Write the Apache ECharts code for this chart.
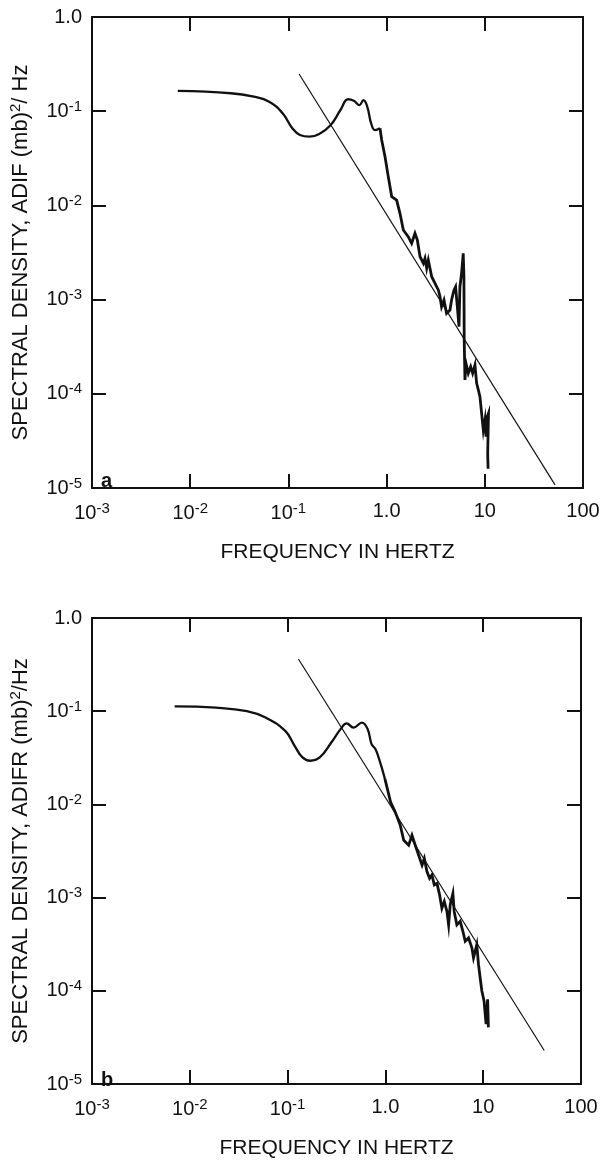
<!DOCTYPE html>
<html>
<head>
<meta charset="utf-8">
<script src="https://cdn.jsdelivr.net/npm/echarts@6/dist/echarts.min.js"></script>
<style>
  html, body { margin: 0; padding: 0; background: #fff; }
  #chart { width: 603px; height: 1160px; }
</style>
</head>
<body>
<div id="chart"></div>
<script>
// panel a : ADIF spectrum (Hz, (mb)^2/Hz)
var freqA = [0.00747, 0.0259, 0.0444, 0.0637, 0.0873, 0.1096, 0.131, 0.164, 0.206, 0.27, 0.339, 0.405, 0.463, 0.53, 0.58, 0.635, 0.696, 0.762, 0.857,
  0.891, 0.964, 1.04, 1.127, 1.265, 1.368, 1.48, 1.66, 1.8, 1.945, 2.055, 2.19, 2.37, 2.46, 2.56, 2.66, 2.88, 3.11, 3.37, 3.5, 3.63, 3.84, 4.08, 4.42,
  4.59, 4.85, 5.04, 5.25, 5.46, 5.58, 5.8, 6.03, 6.13, 6.17, 6.28, 6.43, 6.79, 7.18, 7.52, 7.94, 8.26, 8.59, 8.93, 9.28, 9.66, 10.05, 10.3, 10.6, 10.9, 10.7, 10.8];
var densA = [0.164, 0.155, 0.1425, 0.126, 0.095, 0.066, 0.0559, 0.0536, 0.0573, 0.0714, 0.103, 0.134, 0.129, 0.116, 0.131, 0.112, 0.0743, 0.063, 0.066,
  0.0494, 0.0329, 0.0202, 0.0124, 0.0114, 0.00824, 0.00548, 0.00466, 0.00396, 0.00505, 0.0043, 0.00285, 0.00243, 0.00274, 0.00215, 0.00263, 0.00175, 0.00149, 0.00126, 0.00107, 0.00084, 0.00099, 0.000714, 0.000775,
  0.00099, 0.00126, 0.00137, 0.00084, 0.000516, 0.00137, 0.0019, 0.0031, 0.00175, 0.000373, 0.00014, 0.000211, 0.000165, 0.000194, 0.000165, 0.000202, 0.000129, 0.00011, 0.000093, 0.000062, 0.000041, 0.000053, 0.000035, 0.000057, 0.000062, 0.000023, 0.000016];
var fitFreqA = [0.1285, 51.9];
var fitDensA = [0.248, 0.0000108];

// panel b : ADIFR spectrum
var freqB = [0.0070, 0.0186, 0.0383, 0.0603, 0.0946, 0.118, 0.142, 0.17, 0.213, 0.28, 0.351, 0.401, 0.472, 0.575, 0.659, 0.722, 0.79, 0.863, 0.989, 1.13,
  1.26, 1.42, 1.54, 1.73, 1.87, 2.02, 2.19, 2.37, 2.5, 2.66, 2.83, 2.99, 3.16, 3.37, 3.58, 3.78, 4.0, 4.26, 4.43, 4.6, 4.9, 5.05, 5.38, 5.82, 6.2,
  6.55, 7.08, 7.66, 7.96, 8.6, 8.95, 9.31, 9.68, 10.2, 10.7, 11.1, 11.3];
var densB = [0.1125, 0.109, 0.100, 0.085, 0.0614, 0.0425, 0.0319, 0.0294, 0.0319, 0.0461, 0.065, 0.0741, 0.0667, 0.0753, 0.064, 0.0443, 0.0392, 0.0306, 0.0188, 0.0106,
  0.00828, 0.00596, 0.00412, 0.00365, 0.00466, 0.00365, 0.00285, 0.00223, 0.00263, 0.0019, 0.00161, 0.00175, 0.00137, 0.00142, 0.00107, 0.00077, 0.00091, 0.00071, 0.00051, 0.00084, 0.00111, 0.00071, 0.00051, 0.000556, 0.000435,
  0.00034, 0.000369, 0.000289, 0.000226, 0.000313, 0.000192, 0.000138, 0.0001, 0.000078, 0.000044, 0.000081, 0.0000405];
var fitFreqB = [0.129, 42.1];
var fitDensB = [0.363, 0.0000229];

// where the smooth low-frequency part ends and the noisy tail starts
var smoothEndA = 19;
var smoothEndB = 19;

var xTicks = ['{b|10}{s|-3}', '{b|10}{s|-2}', '{b|10}{s|-1}', '1.0', '10', '100'];   // exponent -3..2
var yTicks = ['{b|10}{s|-5}', '{b|10}{s|-4}', '{b|10}{s|-3}', '{b|10}{s|-2}', '{b|10}{s|-1}', '1.0']; // exponent -5..0

var font = 'Liberation Sans';
var ink = '#111';
var rich = {
  b: { fontFamily: font, fontSize: 20, color: ink },
  s: { fontFamily: font, fontSize: 15, color: ink, padding: [0, 0, 9, 0] }
};

function pairs(xs, ys) {
  return xs.map(function (x, i) { return [x, ys[i]]; });
}

var axisLine = { show: true, lineStyle: { color: ink, width: 2 } };
var tick = { show: true, inside: true, length: 14, lineStyle: { color: ink, width: 2 } };

function xAx(grid, pos, labels) {
  return {
    type: 'log', logBase: 10, min: 0.001, max: 100, gridIndex: grid, position: pos,
    axisLine: axisLine, axisTick: tick, minorTick: { show: false }, splitLine: { show: false },
    axisLabel: {
      show: labels, margin: 13, fontFamily: font, fontSize: 20, color: ink, rich: rich,
      formatter: function (v) { return xTicks[Math.round(Math.log10(v)) + 3]; }
    },
    name: labels ? 'FREQUENCY IN HERTZ' : '', nameLocation: 'middle', nameGap: 54,
    nameTextStyle: { fontFamily: font, fontSize: 21, color: ink }
  };
}

function yAx(grid, pos, labels, title) {
  return {
    type: 'log', logBase: 10, min: 0.00001, max: 1, gridIndex: grid, position: pos,
    axisLine: axisLine, axisTick: tick, minorTick: { show: false }, splitLine: { show: false },
    axisLabel: {
      show: labels, margin: 10, fontFamily: font, fontSize: 20, color: ink, rich: rich,
      formatter: function (v) { return yTicks[Math.round(Math.log10(v)) + 5]; }
    },
    name: title, nameLocation: 'middle', nameGap: 58, nameRotate: 90,
    nameTextStyle: {
      fontFamily: font, fontSize: 22, color: ink,
      rich: {
        t: { fontFamily: font, fontSize: 22, color: ink },
        p: { fontFamily: font, fontSize: 15, color: ink, padding: [0, 0, 11, 0] }
      }
    }
  };
}

var chart = echarts.init(document.getElementById('chart'), null, { renderer: 'canvas' });

var dataA = pairs(freqA, densA);
var dataB = pairs(freqB, densB);
var curve = { color: ink, width: 2.3 };
var noisy = { color: ink, width: 2.8, join: 'miter' };
var fit = { color: ink, width: 1.2 };

var option = {
  animation: false,
  backgroundColor: '#fff',
  grid: [
    { left: 92, top: 17, width: 491, height: 471 },
    { left: 91, top: 618, width: 490, height: 469 }
  ],
  title: [
    { text: 'a', left: 96, top: 466, textStyle: { fontFamily: font, fontSize: 20, fontWeight: 'bold', color: ink } },
    { text: 'b', left: 96, top: 1065, textStyle: { fontFamily: font, fontSize: 20, fontWeight: 'bold', color: ink } }
  ],
  xAxis: [xAx(0, 'bottom', true), xAx(0, 'top', false), xAx(1, 'bottom', true), xAx(1, 'top', false)],
  yAxis: [
    yAx(0, 'left', true, '{t|SPECTRAL DENSITY, ADIF (mb)}{p|2}{t|/ Hz}'),
    yAx(0, 'right', false, ''),
    yAx(1, 'left', true, '{t|SPECTRAL DENSITY, ADIFR (mb)}{p|2}{t|/Hz}'),
    yAx(1, 'right', false, '')
  ],
  series: [
    { type: 'line', xAxisIndex: 0, yAxisIndex: 0, data: dataA.slice(0, smoothEndA), smooth: 0.45,
      showSymbol: false, lineStyle: curve },
    { type: 'line', xAxisIndex: 0, yAxisIndex: 0, data: dataA.slice(smoothEndA - 1),
      showSymbol: false, lineStyle: noisy },
    { type: 'line', xAxisIndex: 0, yAxisIndex: 0, data: pairs(fitFreqA, fitDensA), showSymbol: false, lineStyle: fit },
    { type: 'line', xAxisIndex: 2, yAxisIndex: 2, data: dataB.slice(0, smoothEndB), smooth: 0.45,
      showSymbol: false, lineStyle: curve },
    { type: 'line', xAxisIndex: 2, yAxisIndex: 2, data: dataB.slice(smoothEndB - 1),
      showSymbol: false, lineStyle: noisy },
    { type: 'line', xAxisIndex: 2, yAxisIndex: 2, data: pairs(fitFreqB, fitDensB), showSymbol: false, lineStyle: fit }
  ]
};

chart.setOption(option);
</script>
</body>
</html>
